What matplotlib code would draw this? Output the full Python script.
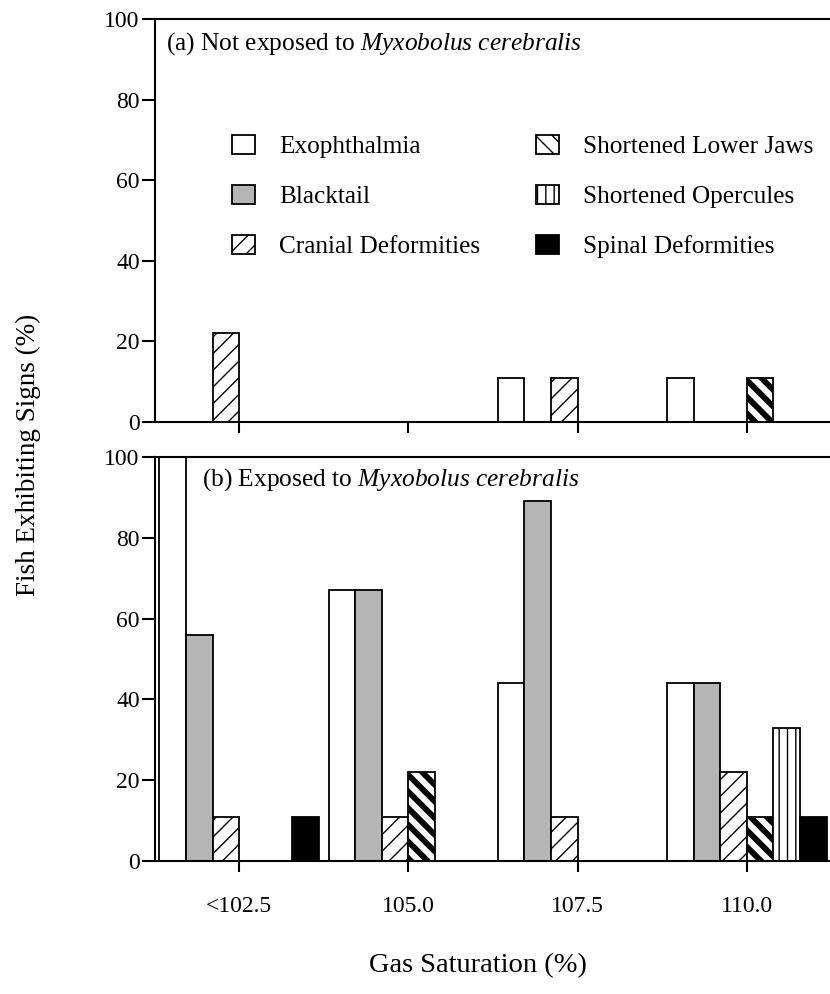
import numpy as np
import matplotlib
matplotlib.use("Agg")
import matplotlib.pyplot as plt
from matplotlib.patches import Patch

plt.rcParams['font.family'] = ['Liberation Serif', 'DejaVu Serif']
plt.rcParams['mathtext.fontset'] = 'custom'
plt.rcParams['mathtext.rm'] = 'Liberation Serif'
plt.rcParams['mathtext.it'] = 'Liberation Serif:italic'

categories = ['<102.5', '105.0', '107.5', '110.0']
signs = ['Exophthalmia', 'Blacktail', 'Cranial Deformities',
         'Shortened Lower Jaws', 'Shortened Opercules', 'Spinal Deformities']

# (a) not exposed
exo_a = [0, 0, 11, 11]
black_a = [0, 0, 0, 0]
cranial_a = [22, 0, 11, 0]
jaw_a = [0, 0, 0, 11]
operc_a = [0, 0, 0, 0]
spinal_a = [0, 0, 0, 0]

# (b) exposed
exo_b = [100, 67, 44, 44]
black_b = [56, 67, 89, 44]
cranial_b = [11, 11, 11, 22]
jaw_b = [0, 22, 0, 11]
operc_b = [0, 0, 0, 33]
spinal_b = [11, 0, 0, 11]

styles = [
    dict(facecolor='white', hatch=None, hlw=None),
    dict(facecolor='#b5b5b5', hatch=None, hlw=None),
    dict(facecolor='white', hatch='//', hlw=1.0),
    dict(facecolor='white', hatch='\\\\', hlw=4.2),
    dict(facecolor='white', hatch='||', hlw=1.0),
    dict(facecolor='black', hatch=None, hlw=None),
]

W, H = 830, 994
fig = plt.figure(figsize=(W / 100, H / 100), dpi=100)

def px_axes(left, right, top, bottom):
    return fig.add_axes([left / W, 1 - bottom / H, (right - left) / W, (bottom - top) / H])

ax_a = px_axes(154.5, 831.5, 19, 422)
ax_b = px_axes(154.5, 831.5, 457, 861)

x = np.arange(len(categories))
bw = 0.157

def draw(ax, series):
    for i, (vals, st) in enumerate(zip(series, styles)):
        bars = ax.bar(x + (i - 2.5) * bw, vals, width=bw, facecolor=st['facecolor'],
                      edgecolor='black', linewidth=1.3, hatch=st['hatch'], zorder=2)
        if st['hlw'] is not None:
            for b in bars:
                if hasattr(b, 'set_hatch_linewidth'):
                    b.set_hatch_linewidth(st['hlw'])
    ax.set_xlim(-0.5, 3.5)
    ax.set_ylim(0, 100)
    ax.set_yticks([0, 20, 40, 60, 80, 100])
    ax.set_xticks(x)
    ax.spines['right'].set_visible(False)
    for s in ['left', 'top', 'bottom']:
        ax.spines[s].set_linewidth(1.5)
    ax.tick_params(axis='y', direction='out', length=9.5, width=1.5, pad=1.2, labelsize=17)
    ax.tick_params(axis='x', direction='out', length=8, width=1.5, pad=17, labelsize=17)

draw(ax_a, [exo_a, black_a, cranial_a, jaw_a, operc_a, spinal_a])
draw(ax_b, [exo_b, black_b, cranial_b, jaw_b, operc_b, spinal_b])
ax_a.set_xticklabels([])
ax_b.set_xticklabels(categories)

ax_a.text(0.017, 0.94, r"(a) Not exposed to $\mathit{Myxobolus\ cerebralis}$",
          transform=ax_a.transAxes, ha='left', va='center', fontsize=18.3)
ax_b.text(0.070, 0.943, r"(b) Exposed to $\mathit{Myxobolus\ cerebralis}$",
          transform=ax_b.transAxes, ha='left', va='center', fontsize=18.3)

handles = []
for lab, st in zip(signs, styles):
    p = Patch(facecolor=st['facecolor'], edgecolor='black', linewidth=1.3,
              hatch=st['hatch'], label=lab)
    if st['hlw'] is not None and hasattr(p, 'set_hatch_linewidth'):
        p.set_hatch_linewidth(st['hlw'])
    handles.append(p)

leg = ax_a.legend(handles=handles, ncol=2, loc='upper left',
                  bbox_to_anchor=(231.5 / W, 1 - 135 / H), bbox_transform=fig.transFigure,
                  frameon=False, fontsize=18.2, handlelength=0.92, handleheight=0.8,
                  handletextpad=0.95, labelspacing=1.05, columnspacing=2.2,
                  borderpad=0, borderaxespad=0)

fig.text(28 / W, 1 - 455 / H, 'Fish Exhibiting Signs (%)', rotation=90,
         ha='center', va='center', fontsize=19.5)
fig.text(478 / W, 1 - 966 / H, 'Gas Saturation (%)', ha='center', va='center', fontsize=20.5)

fig.savefig('out.png', dpi=100)
